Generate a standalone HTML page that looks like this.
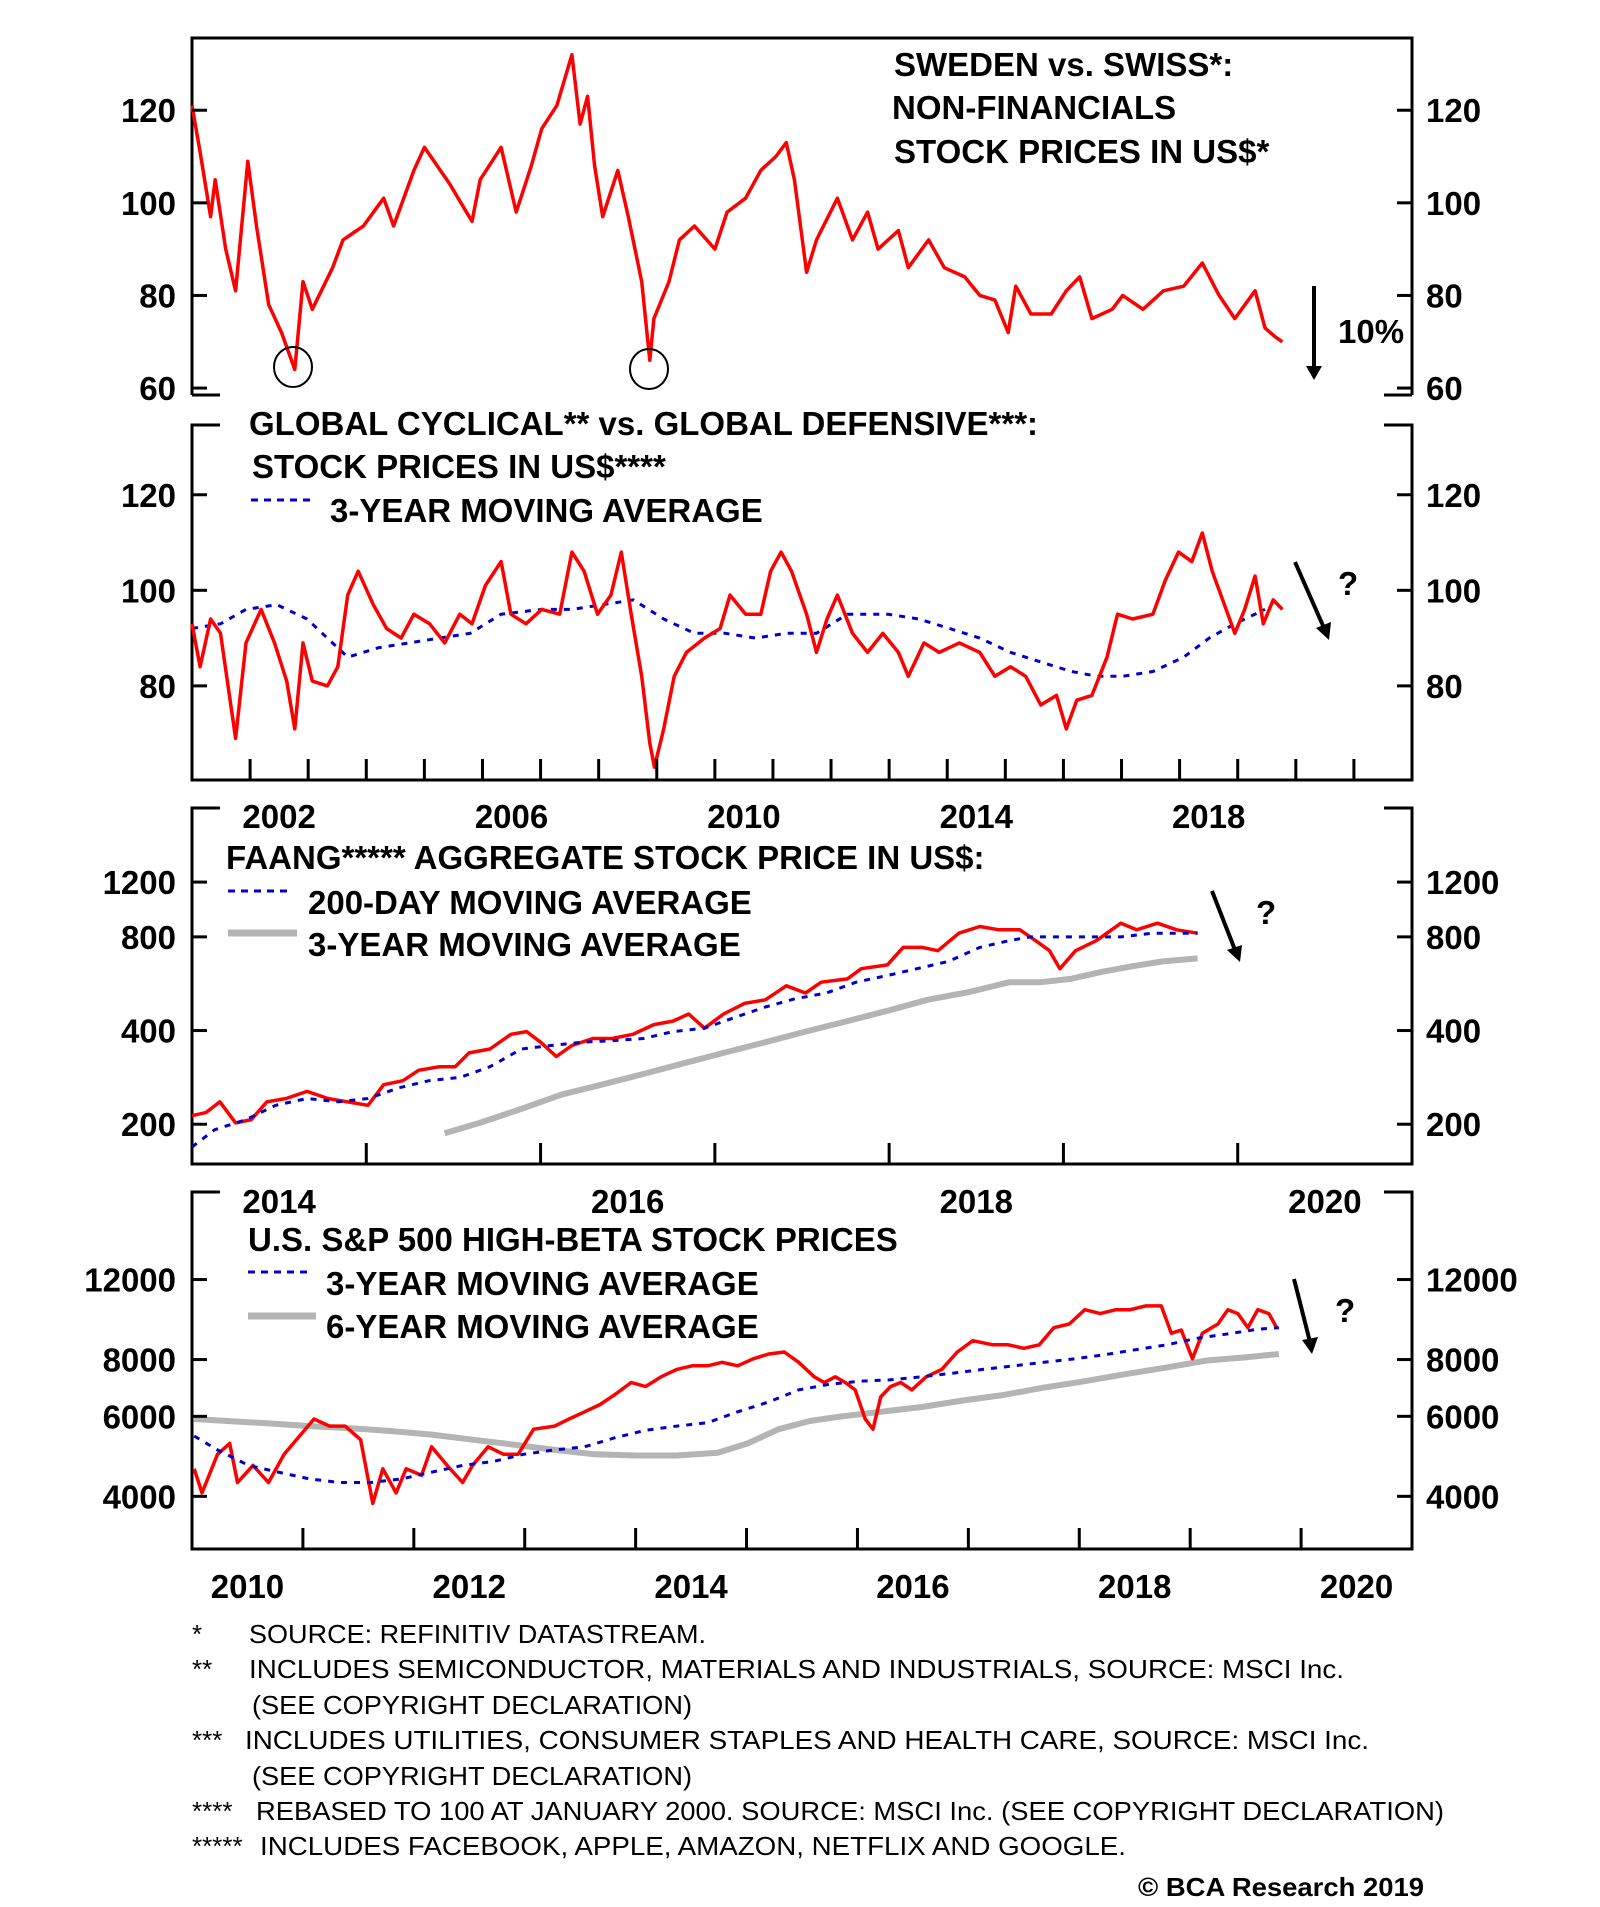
<!DOCTYPE html>
<html><head><meta charset="utf-8"><title>BCA chart</title>
<style>
html,body{margin:0;padding:0;background:#fff;}
svg{display:block;}
text{font-family:"Liberation Sans",Arial,sans-serif;fill:#000;}
.t{font-weight:bold;font-size:33px;}
.ax{font-weight:bold;font-size:33px;}
.fn{font-size:26px;}
</style></head>
<body>
<svg id="chart" width="1600" height="1907" viewBox="0 0 1600 1907" xmlns="http://www.w3.org/2000/svg">
<rect x="0" y="0" width="1600" height="1907" fill="#fff"/>
<g id="frames" stroke="#000" stroke-width="3" fill="none">
  <path d="M192,395 L192,38 L1412,38 L1412,395 M192,395 L220,395 M1384,395 L1412,395"/>
  <path d="M220,425 L192,425 L192,780 L1412,780 L1412,425 L1384,425"/>
  <path d="M220,808 L192,808 L192,1164 L1412,1164 L1412,808 L1384,808"/>
  <path d="M220,1192 L192,1192 L192,1549 L1412,1549 L1412,1192 L1384,1192"/>
</g>
<g id="marks"></g>
<g id="axes"></g>
<g id="annot">
  <text class="t" x="894" y="76">SWEDEN vs. SWISS*:</text>
  <text class="t" x="892" y="119">NON-FINANCIALS</text>
  <text class="t" x="894" y="163">STOCK PRICES IN US$*</text>
  <ellipse cx="293" cy="367" rx="19" ry="20" fill="none" stroke="#000" stroke-width="2"/>
  <ellipse cx="649" cy="369" rx="19" ry="20" fill="none" stroke="#000" stroke-width="2"/>
  <line x1="1314" y1="286" x2="1314" y2="370" stroke="#000" stroke-width="4"/>
  <polygon points="1306,366 1322,366 1314,380" fill="#000"/>
  <text class="t" x="1338" y="343">10%</text>

  <text class="t" x="249" y="435">GLOBAL CYCLICAL** vs. GLOBAL DEFENSIVE***:</text>
  <text class="t" x="252" y="478">STOCK PRICES IN US$****</text>
  <line x1="251" y1="500" x2="313" y2="500" stroke="#0000cc" stroke-width="3" stroke-dasharray="7,6"/>
  <text class="t" x="330" y="522">3-YEAR MOVING AVERAGE</text>
  <line x1="1295" y1="562" x2="1324" y2="628" stroke="#000" stroke-width="4"/>
  <polygon points="1316,628 1331,622 1329,640" fill="#000"/>
  <text class="t" x="1338" y="595">?</text>

  <text class="t" x="226" y="869">FAANG***** AGGREGATE STOCK PRICE IN US$:</text>
  <line x1="228" y1="891" x2="292" y2="891" stroke="#0000cc" stroke-width="3" stroke-dasharray="7,6"/>
  <text class="t" x="308" y="914">200-DAY MOVING AVERAGE</text>
  <line x1="228" y1="933" x2="297" y2="933" stroke="#b4b4b4" stroke-width="7"/>
  <text class="t" x="308" y="956">3-YEAR MOVING AVERAGE</text>
  <line x1="1212" y1="891" x2="1235" y2="950" stroke="#000" stroke-width="4"/>
  <polygon points="1227,950 1242,945 1240,962" fill="#000"/>
  <text class="t" x="1256" y="924">?</text>

  <text class="t" x="248" y="1251">U.S. S&amp;P 500 HIGH-BETA STOCK PRICES</text>
  <line x1="248" y1="1272" x2="310" y2="1272" stroke="#0000cc" stroke-width="3" stroke-dasharray="7,6"/>
  <text class="t" x="326" y="1295">3-YEAR MOVING AVERAGE</text>
  <line x1="248" y1="1316" x2="316" y2="1316" stroke="#b4b4b4" stroke-width="7"/>
  <text class="t" x="326" y="1338">6-YEAR MOVING AVERAGE</text>
  <line x1="1294" y1="1279" x2="1310" y2="1342" stroke="#000" stroke-width="4"/>
  <polygon points="1302,1340 1318,1337 1312,1354" fill="#000"/>
  <text class="t" x="1335" y="1322">?</text>
</g>
<g id="footnotes">
  <text class="fn" x="192" y="1643">*</text>
  <text class="fn" x="249" y="1643" textLength="457" lengthAdjust="spacingAndGlyphs">SOURCE: REFINITIV DATASTREAM.</text>
  <text class="fn" x="192" y="1678">**</text>
  <text class="fn" x="249" y="1678" textLength="1095" lengthAdjust="spacingAndGlyphs">INCLUDES SEMICONDUCTOR, MATERIALS AND INDUSTRIALS, SOURCE: MSCI Inc.</text>
  <text class="fn" x="252" y="1714" textLength="440" lengthAdjust="spacingAndGlyphs">(SEE COPYRIGHT DECLARATION)</text>
  <text class="fn" x="192" y="1749">***</text>
  <text class="fn" x="245" y="1749" textLength="1124" lengthAdjust="spacingAndGlyphs">INCLUDES UTILITIES, CONSUMER STAPLES AND HEALTH CARE, SOURCE: MSCI Inc.</text>
  <text class="fn" x="252" y="1785" textLength="440" lengthAdjust="spacingAndGlyphs">(SEE COPYRIGHT DECLARATION)</text>
  <text class="fn" x="192" y="1820">****</text>
  <text class="fn" x="256" y="1820" textLength="1188" lengthAdjust="spacingAndGlyphs">REBASED TO 100 AT JANUARY 2000. SOURCE: MSCI Inc. (SEE COPYRIGHT DECLARATION)</text>
  <text class="fn" x="192" y="1855">*****</text>
  <text class="fn" x="260" y="1855" textLength="866" lengthAdjust="spacingAndGlyphs">INCLUDES FACEBOOK, APPLE, AMAZON, NETFLIX AND GOOGLE.</text>
  <text class="fn" x="1138" y="1896" font-weight="bold" textLength="286" lengthAdjust="spacingAndGlyphs">© BCA Research 2019</text>
</g>
</svg>
<script>
// ---- Panel 1: Sweden vs Swiss ----
const p1Dates=[2001.00,2001.14,2001.32,2001.40,2001.58,2001.75,2001.96,2002.11,2002.32,2002.54,2002.77,2002.91,2003.07,2003.42,2003.60,2003.95,2004.30,2004.47,2004.82,2005.00,2005.44,2005.82,2005.96,2006.32,2006.58,2006.84,2007.02,2007.28,2007.54,2007.68,2007.81,2007.93,2008.07,2008.33,2008.51,2008.74,2008.88,2008.95,2009.21,2009.39,2009.65,2010.00,2010.21,2010.53,2010.79,2011.05,2011.23,2011.37,2011.58,2011.75,2012.11,2012.37,2012.63,2012.81,2013.16,2013.33,2013.68,2013.95,2014.30,2014.56,2014.82,2015.05,2015.18,2015.44,2015.79,2016.05,2016.28,2016.49,2016.84,2017.02,2017.37,2017.72,2018.07,2018.39,2018.68,2018.95,2019.30,2019.47,2019.65,2019.77];
const p1Values=[121,111,97,105,90,81,109,95,78,72,64,83,77,86,92,95,101,95,107,112,104,96,105,112,98,108,116,121,132,117,123,108,97,107,97,83,66,75,83,92,95,90,98,101,107,110,113,105,85,92,101,92,98,90,94,86,92,86,84,80,79,72,82,76,76,81,84,75,77,80,77,81,82,87,80,75,81,73,71,70];
const p1Ticks=[60,80,100,120];
// ---- Panel 2: Global cyclical vs defensive ----
const p2Dates=[2001.00,2001.14,2001.32,2001.49,2001.75,2001.93,2002.19,2002.42,2002.63,2002.77,2002.91,2003.07,2003.33,2003.51,2003.68,2003.86,2004.12,2004.35,2004.60,2004.82,2005.09,2005.35,2005.61,2005.82,2006.05,2006.32,2006.49,2006.75,2007.02,2007.33,2007.54,2007.75,2007.98,2008.21,2008.39,2008.56,2008.74,2008.88,2008.96,2009.12,2009.30,2009.51,2009.82,2010.09,2010.26,2010.53,2010.79,2010.96,2011.14,2011.32,2011.58,2011.75,2011.93,2012.11,2012.37,2012.63,2012.89,2013.16,2013.33,2013.60,2013.86,2014.21,2014.56,2014.82,2015.09,2015.35,2015.61,2015.88,2016.05,2016.23,2016.49,2016.75,2016.93,2017.19,2017.54,2017.75,2017.98,2018.21,2018.39,2018.56,2018.77,2018.95,2019.12,2019.30,2019.44,2019.61,2019.77];
const p2Values=[93,84,94,91,69,89,96,89,81,71,89,81,80,84,99,104,97,92,90,95,93,89,95,93,101,106,95,93,96,95,108,104,95,99,108,95,82,68,63,71,82,87,90,92,99,95,95,104,108,104,95,87,94,99,91,87,91,87,82,89,87,89,87,82,84,82,76,78,71,77,78,86,95,94,95,102,108,106,112,104,97,91,96,103,93,98,96];
const p2MaDates=[2001.00,2001.49,2001.93,2002.46,2002.98,2003.33,2003.68,2004.21,2004.74,2005.26,2005.79,2006.32,2007.02,2007.54,2008.07,2008.60,2009.12,2009.65,2010.18,2010.70,2011.23,2011.75,2012.28,2012.98,2013.51,2014.04,2014.56,2015.09,2015.61,2016.14,2016.58,2017.02,2017.54,2018.07,2018.51,2018.95,2019.47];
const p2MaValues=[92,93,96,97,94,90,86,88,89,90,91,95,96,96,97,98,94,91,91,90,91,91,95,95,94,92,90,87,85,83,82,82,83,86,90,93,96];
const p2Ticks=[80,100,120];
const p12XTicks=[2002,2003,2004,2005,2006,2007,2008,2009,2010,2011,2012,2013,2014,2015,2016,2017,2018,2019,2020,2021];
const p12XLabels=[2002,2006,2010,2014,2018];
// ---- Panel 3: FAANG ----
const p3Dates=[2014.00,2014.08,2014.16,2014.25,2014.34,2014.43,2014.54,2014.66,2014.78,2014.89,2015.01,2015.10,2015.21,2015.30,2015.42,2015.51,2015.59,2015.71,2015.83,2015.92,2016.00,2016.09,2016.18,2016.30,2016.41,2016.53,2016.65,2016.76,2016.85,2016.94,2017.05,2017.17,2017.29,2017.41,2017.52,2017.61,2017.76,2017.84,2017.99,2018.08,2018.19,2018.28,2018.40,2018.52,2018.63,2018.75,2018.84,2018.92,2018.98,2019.07,2019.19,2019.33,2019.42,2019.54,2019.65,2019.77];
const p3Values=[213,218,236,202,207,236,242,255,242,236,230,268,276,298,306,306,339,349,389,397,367,330,358,377,377,389,418,429,452,407,452,489,502,557,528,572,586,632,650,740,740,722,822,864,843,843,778,722,632,722,778,885,843,885,843,822];
const p3Ma200Dates=[2014.00,2014.13,2014.31,2014.48,2014.66,2014.84,2015.01,2015.19,2015.36,2015.54,2015.71,2015.89,2016.06,2016.24,2016.41,2016.59,2016.76,2016.94,2017.11,2017.29,2017.46,2017.64,2017.81,2017.99,2018.16,2018.34,2018.52,2018.69,2018.81,2018.98,2019.16,2019.33,2019.51,2019.68,2019.77];
const p3Ma200Values=[169,192,207,230,242,236,242,262,276,283,306,349,358,367,371,377,397,407,440,476,506,528,572,601,632,667,740,778,800,800,800,800,822,822,822];
const p3Ma3yDates=[2015.45,2015.65,2015.89,2016.12,2016.35,2016.59,2016.82,2017.05,2017.29,2017.52,2017.76,2017.99,2018.22,2018.46,2018.69,2018.87,2019.04,2019.22,2019.39,2019.57,2019.77];
const p3Ma3yValues=[187,202,224,249,268,290,314,339,367,397,429,463,502,532,572,572,586,618,643,667,682];
const p3Ticks=[200,400,800,1200];
const p3XTicks=[2015,2016,2017,2018,2019,2020];
const p3XLabels=[2014,2016,2018,2020];
// ---- Panel 4: S&P 500 high beta ----
const p4Dates=[2010.02,2010.09,2010.23,2010.34,2010.41,2010.55,2010.69,2010.83,2010.97,2011.10,2011.24,2011.38,2011.52,2011.63,2011.72,2011.84,2011.93,2012.07,2012.16,2012.30,2012.44,2012.53,2012.67,2012.81,2012.94,2013.08,2013.27,2013.40,2013.54,2013.68,2013.82,2013.96,2014.09,2014.23,2014.37,2014.51,2014.65,2014.78,2014.92,2015.06,2015.20,2015.34,2015.47,2015.61,2015.70,2015.80,2015.89,2015.98,2016.07,2016.14,2016.21,2016.30,2016.39,2016.49,2016.62,2016.76,2016.90,2017.04,2017.22,2017.36,2017.50,2017.64,2017.77,2017.91,2018.05,2018.19,2018.33,2018.46,2018.60,2018.74,2018.83,2018.92,2019.02,2019.11,2019.25,2019.34,2019.43,2019.52,2019.61,2019.71,2019.78];
const p4Values=[4600,4070,4950,5230,4290,4680,4290,4950,5430,5920,5710,5710,5330,3860,4600,4070,4600,4450,5140,4680,4290,4680,5140,4950,4950,5620,5710,5920,6140,6370,6720,7120,6980,7330,7610,7750,7750,7890,7750,8030,8230,8310,7890,7330,7120,7330,7120,6860,5920,5620,6620,6980,7120,6860,7330,7610,8310,8800,8620,8620,8470,8620,9400,9580,10300,10100,10300,10300,10500,10500,9140,9290,8030,9140,9580,10300,10100,9400,10300,10100,9400];
const p4Ma3Dates=[2010.02,2010.23,2010.51,2010.78,2011.06,2011.33,2011.61,2011.89,2012.16,2012.44,2012.71,2012.99,2013.27,2013.54,2013.82,2014.09,2014.37,2014.65,2014.92,2015.20,2015.47,2015.75,2016.03,2016.30,2016.58,2016.85,2017.13,2017.41,2017.68,2017.96,2018.23,2018.51,2018.79,2019.06,2019.34,2019.61,2019.80];
const p4Ma3Values=[5430,5060,4680,4520,4370,4290,4290,4370,4520,4680,4770,4950,5060,5140,5390,5590,5710,5810,6140,6450,6860,7060,7170,7220,7330,7460,7610,7750,7890,8030,8200,8410,8620,8910,9110,9330,9400];
const p4Ma6Dates=[2010.02,2010.32,2010.69,2011.06,2011.43,2011.79,2012.16,2012.53,2012.90,2013.27,2013.63,2014.00,2014.37,2014.74,2015.01,2015.29,2015.57,2015.84,2016.21,2016.58,2016.95,2017.31,2017.68,2018.05,2018.42,2018.79,2019.15,2019.52,2019.80];
const p4Ma6Values=[5920,5860,5790,5710,5650,5570,5470,5330,5200,5060,4950,4920,4920,4990,5230,5620,5860,5990,6140,6290,6500,6680,6940,7170,7430,7690,7960,8100,8230];
const p4Ticks=[4000,6000,8000,12000];
const p4XTicks=[2011,2012,2013,2014,2015,2016,2017,2018,2019,2020];
const p4XLabels=[2010,2012,2014,2016,2018,2020];

const NS='http://www.w3.org/2000/svg';
const marks=document.getElementById('marks');
const axes=document.getElementById('axes');
const X0=192, X1=1412;
function lin(d0,d1,r0,r1){return v=>r0+(v-d0)/(d1-d0)*(r1-r0);}
function lg(d0,d1,r0,r1){const a=Math.log(d0),b=Math.log(d1);return v=>r0+(Math.log(v)-a)/(b-a)*(r1-r0);}

function drawLine(xs,ys,sx,sy,stroke,width,dash,name){
  const p=document.createElementNS(NS,'path');
  let d='';
  for(let i=0;i<xs.length;i++){d+=(i?'L':'M')+sx(xs[i]).toFixed(1)+','+sy(ys[i]).toFixed(1);}
  p.setAttribute('d',d);
  p.setAttribute('fill','none');
  p.setAttribute('stroke',stroke);
  p.setAttribute('stroke-width',width);
  p.setAttribute('stroke-linejoin','round');
  if(dash)p.setAttribute('stroke-dasharray',dash);
  
  
  marks.appendChild(p);
}
function yAxis(ticks,sy,fmt,prefix){
  ticks.forEach(v=>{
    const y=sy(v);
    [[X0,X0+15],[X1-15,X1]].forEach((xx,k)=>{
      const l=document.createElementNS(NS,'line');
      l.setAttribute('x1',xx[0]);l.setAttribute('x2',xx[1]);l.setAttribute('y1',y);l.setAttribute('y2',y);
      l.setAttribute('stroke','#000');l.setAttribute('stroke-width','3');
      
      
      axes.appendChild(l);
      const t=document.createElementNS(NS,'text');
      t.setAttribute('class','ax');
      t.setAttribute('x',k?X1+14:X0-16);
      t.setAttribute('y',y+12);
      t.setAttribute('text-anchor',k?'start':'end');
      t.textContent=String(v);
      
      
      axes.appendChild(t);
    });
  });
}
function xAxis(ticks,labels,sx,yb,labelY,prefix){
  ticks.forEach(v=>{
    const l=document.createElementNS(NS,'line');
    const x=sx(v);
    l.setAttribute('x1',x);l.setAttribute('x2',x);l.setAttribute('y1',yb-21);l.setAttribute('y2',yb);
    l.setAttribute('stroke','#000');l.setAttribute('stroke-width','3');
    
    
    axes.appendChild(l);
  });
  labels.forEach(v=>{
    const t=document.createElementNS(NS,'text');
    t.setAttribute('class','ax');
    t.setAttribute('x',sx(v+0.5));
    t.setAttribute('y',labelY);
    t.setAttribute('text-anchor','middle');
    t.textContent=String(v);
    
    
    axes.appendChild(t);
  });
}
const sx12=lin(2001,2022,X0,X1);
const sy1=lin(58.5,135.6,395,38);
const sy2=lin(60.3,134.6,780,425);
const sx3=lin(2014,2021,X0,X1);
const sy3=lg(149,2076,1164,808);
const sx4=lin(2010,2021,X0,X1);
const sy4=lg(3063,18700,1549,1192);

drawLine(p1Dates,p1Values,sx12,sy1,'#ff0000',3.5,null,'panel1-sweden-swiss-line');
drawLine(p2MaDates,p2MaValues,sx12,sy2,'#0000cc',3,'6,7','panel2-3y-ma-line');
drawLine(p2Dates,p2Values,sx12,sy2,'#ff0000',3.5,null,'panel2-cyclical-defensive-line');
drawLine(p3Ma3yDates,p3Ma3yValues,sx3,sy3,'#b4b4b4',6,null,'panel3-3y-ma-line');
drawLine(p3Dates,p3Values,sx3,sy3,'#ff0000',3.5,null,'panel3-faang-line');
drawLine(p3Ma200Dates,p3Ma200Values,sx3,sy3,'#0000cc',3,'6,7','panel3-200d-ma-line');
drawLine(p4Ma6Dates,p4Ma6Values,sx4,sy4,'#b4b4b4',6,null,'panel4-6y-ma-line');
drawLine(p4Dates,p4Values,sx4,sy4,'#ff0000',3.5,null,'panel4-high-beta-line');
drawLine(p4Ma3Dates,p4Ma3Values,sx4,sy4,'#0000cc',3,'6,7','panel4-3y-ma-line');

yAxis(p1Ticks,sy1,null,'panel1');
yAxis(p2Ticks,sy2,null,'panel2');
yAxis(p3Ticks,sy3,null,'panel3');
yAxis(p4Ticks,sy4,null,'panel4');
xAxis(p12XTicks,p12XLabels,sx12,780,828,'panel2');
xAxis(p3XTicks,p3XLabels,sx3,1164,1213,'panel3');
xAxis(p4XTicks,p4XLabels,sx4,1549,1598,'panel4');
</script>
</body></html>
